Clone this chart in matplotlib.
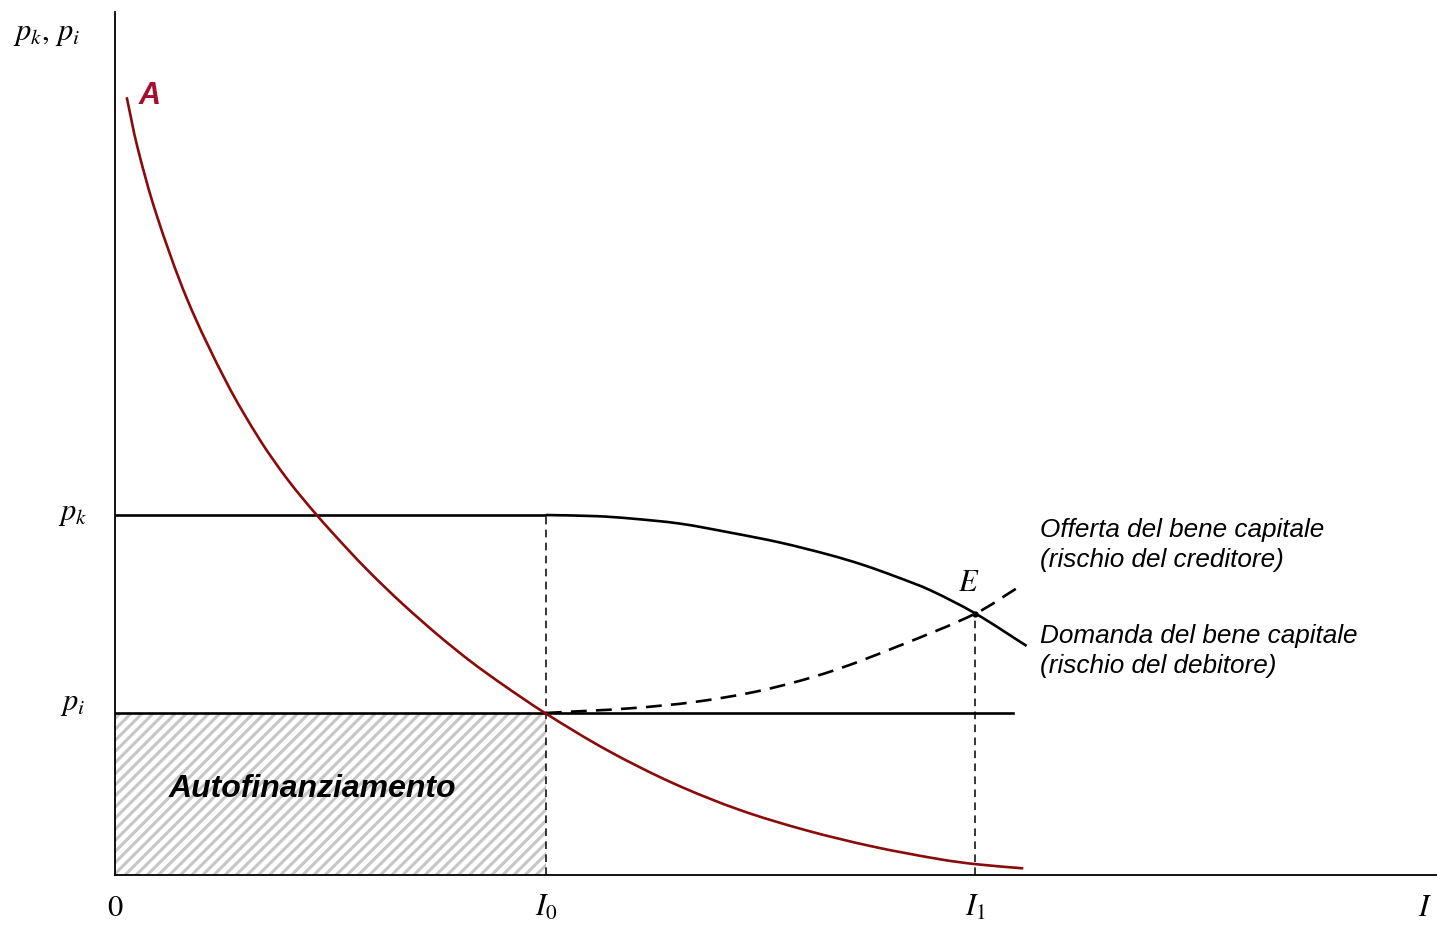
import matplotlib.pyplot as plt
from matplotlib.path import Path
from matplotlib.patches import PathPatch

plt.rcParams['mathtext.fontset'] = 'stix'
plt.rcParams['font.family'] = ['Liberation Sans', 'DejaVu Sans']
plt.rcParams['hatch.linewidth'] = 2.2

# curve A
a_x = [2.72, 5.19, 9.53, 16.86, 26.05, 33.72, 40.23, 46.91, 53.88, 59.47, 66.74,
       75.12, 82.79, 90.30, 100.0, 114.35, 129.84, 145.35, 160.86, 176.35, 191.86,
       200.10, 211.23]
a_y = [480.1, 449.6, 408.6, 354.9, 303.5, 268.5, 243.8, 222.2, 201.7, 186.2, 167.7,
       148.1, 131.7, 117.3, 100.0, 77.2, 56.6, 40.1, 27.5, 17.5, 9.7, 6.7, 4.1]

# domanda del bene capitale (curved part, after I0)
dom_x = [100.2, 112.0, 119.8, 131.4, 143.0, 154.7, 166.3, 174.0, 181.8, 189.5,
         200.1, 212.0]
dom_y = [222.2, 221.5, 220.1, 216.9, 211.4, 205.2, 197.5, 191.4, 184.0, 175.9,
         161.4, 141.4]

# offerta del bene capitale
off_x = [100.2, 119.8, 135.3, 150.8, 166.3, 181.8, 200.1, 210.0]
off_y = [100.0, 102.9, 107.0, 114.2, 125.5, 140.9, 161.4, 177.5]

p_i = 100.0
p_k = 222.2
I0 = 100.2
I1 = 200.1
E_x, E_y = 200.1, 161.4
pi_end = 208.9

SX, SY = 4.3, 1.62  # pixels per data unit


def smooth(xs, ys):
    # smooth curve through the read points (chord-length tangents, bezier)
    pts = list(zip(xs, ys))
    n = len(pts)

    def dist(a, b):
        return (((b[0] - a[0]) * SX) ** 2 + ((b[1] - a[1]) * SY) ** 2) ** 0.5

    def tangent(i):
        a = pts[max(i - 1, 0)]
        b = pts[min(i + 1, n - 1)]
        d = dist(a, b)
        return ((b[0] - a[0]) / d, (b[1] - a[1]) / d)

    verts = [pts[0]]
    codes = [Path.MOVETO]
    for i in range(n - 1):
        p1, p2 = pts[i], pts[i + 1]
        h = dist(p1, p2) / 3
        t1, t2 = tangent(i), tangent(i + 1)
        verts += [(p1[0] + t1[0] * h, p1[1] + t1[1] * h),
                  (p2[0] - t2[0] * h, p2[1] - t2[1] * h), p2]
        codes += [Path.CURVE4] * 3
    return Path(verts, codes)


fig = plt.figure(figsize=(14.37, 9.31), dpi=100)
ax = fig.add_axes([115 / 1437, 56 / 931, 1322 / 1437, 863 / 931])
ax.set_xlim(0, 1322 / SX)
ax.set_ylim(0, 863 / SY)

# autofinanziamento
ax.fill_between([0, I0], 0, p_i, facecolor='white', edgecolor='#c6c6c6',
                hatch='///', linewidth=0, zorder=1)
ax.text(46, 53, 'Autofinanziamento', fontsize=23, fontweight='bold',
        fontstyle='italic', ha='center', va='center', zorder=3)

ax.plot([0, pi_end], [p_i, p_i], color='black', lw=1.9, zorder=2)
ax.plot([0, I0], [p_k, p_k], color='black', lw=1.9, zorder=2, solid_capstyle='butt')
ax.add_patch(PathPatch(smooth(dom_x, dom_y), fill=False, ec='black', lw=1.9,
                       zorder=2))
ax.add_patch(PathPatch(smooth(off_x, off_y), fill=False, ec='black', lw=1.9,
                       ls=(0, (6, 3.5)), zorder=2))
ax.plot([I0, I0], [0, p_k], color='black', lw=1.1, ls=(0, (5, 3.5)), zorder=2)
ax.plot([I1, I1], [0, E_y], color='black', lw=1.1, ls=(0, (5, 3.5)), zorder=2)
ax.add_patch(PathPatch(smooth(a_x, a_y), fill=False, ec='#8b0a0a', lw=1.9,
                       zorder=4))
ax.plot([E_x], [E_y], 'o', color='black', ms=3.5, zorder=5)

ax.text(5.5, 481, 'A', color='#a50f2d', fontsize=22, fontweight='bold',
        fontstyle='italic', ha='left', va='center')
ax.text(198.5, 180, '$E$', fontsize=22, ha='center', va='center')

ax.text(215, 203.7, 'Offerta del bene capitale\n(rischio del creditore)',
        fontsize=18.8, fontstyle='italic', ha='left', va='center', linespacing=1.32)
ax.text(215, 138.3, 'Domanda del bene capitale\n(rischio del debitore)',
        fontsize=18.8, fontstyle='italic', ha='left', va='center', linespacing=1.32)

ax.text(-8.1, 520, '$p_k, \\, p_i$', fontsize=22, ha='right', va='center')
ax.text(-6.3, p_k + 1, '$p_k$', fontsize=22, ha='right', va='center')
ax.text(-6.8, p_i + 6, '$p_i$', fontsize=22, ha='right', va='center')

ax.set_xticks([0, I0, I1, 304.7])
ax.set_xticklabels(['$0$', '$I_0$', '$I_1$', '$I$'], fontsize=22)
ax.set_yticks([])
ax.tick_params(length=0, pad=13)

for s in ['top', 'right']:
    ax.spines[s].set_visible(False)
for s in ['left', 'bottom']:
    ax.spines[s].set_linewidth(1.3)

fig.savefig('out.png', dpi=100)
